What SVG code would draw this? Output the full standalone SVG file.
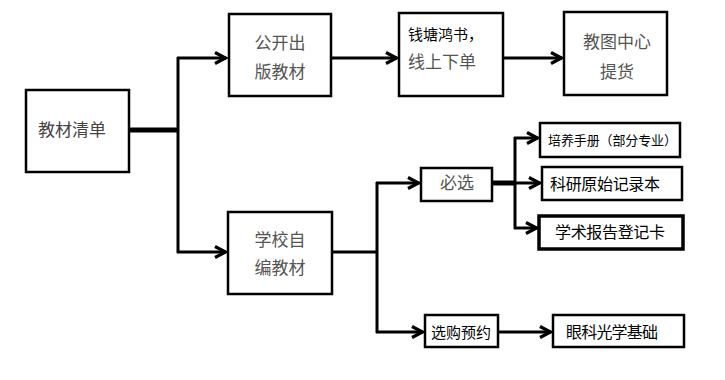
<svg xmlns="http://www.w3.org/2000/svg" width="725" height="380" viewBox="0 0 725 380">
<style>
.box{fill:#fff;stroke:#000;stroke-width:2.5}
.t{font-family:"Noto Sans CJK SC","Noto Sans",sans-serif;font-size:17px;fill:#555;text-anchor:middle}
.k{font-family:"Noto Sans CJK SC","Noto Sans",sans-serif;font-size:16px;fill:#000}
.c{fill:none;stroke:#000;stroke-width:3}
.thick{fill:none;stroke:#000;stroke-width:5}
</style>
<defs>
<marker id="ah" viewBox="0 0 14 14" refX="12.5" refY="7" markerWidth="14" markerHeight="14" markerUnits="userSpaceOnUse" orient="auto">
<path d="M1.5,1.5 L12,7 L1.5,12.5" fill="none" stroke="#000" stroke-width="3.2"/>
</marker>
</defs>
<rect width="725" height="380" fill="#fff"/>
<g id="connectors">
<line class="thick" x1="129" y1="130" x2="178" y2="130"/>
<line class="c" x1="178" y1="57" x2="178" y2="253"/>
<line class="c" x1="177" y1="58" x2="226" y2="58" marker-end="url(#ah)"/>
<line class="c" x1="177" y1="252" x2="226" y2="252" marker-end="url(#ah)"/>
<line class="c" x1="331" y1="58" x2="397" y2="58" marker-end="url(#ah)"/>
<line class="c" x1="500" y1="58" x2="562" y2="58" marker-end="url(#ah)"/>
<line class="c" x1="332" y1="252" x2="378" y2="252"/>
<line class="c" x1="377" y1="182" x2="377" y2="333"/>
<line class="c" x1="376" y1="183" x2="419" y2="183" marker-end="url(#ah)"/>
<line class="c" x1="376" y1="332" x2="423" y2="332" marker-end="url(#ah)"/>
<line class="thick" x1="492" y1="183" x2="516" y2="183"/>
<line class="c" x1="515" y1="137" x2="515" y2="229"/>
<line class="c" x1="514" y1="138" x2="538" y2="138" marker-end="url(#ah)"/>
<line class="c" x1="514" y1="183" x2="540" y2="183" marker-end="url(#ah)"/>
<line class="c" x1="514" y1="228" x2="537" y2="228" marker-end="url(#ah)"/>
<line class="c" x1="498" y1="332" x2="551" y2="332" marker-end="url(#ah)"/>
</g>
<g id="n-qingdan">
<rect class="box" x="26" y="90" width="103" height="82"/>
<text class="t" x="72" y="136" style="fill:#444">教材清单</text>
</g>
<g id="n-gongkai">
<rect class="box" x="229" y="14" width="102" height="82"/>
<text class="t" x="280" y="49">公开出</text>
<text class="t" x="280" y="78">版教材</text>
</g>
<g id="n-qiantang">
<rect class="box" x="399" y="13" width="104" height="83"/>
<text class="t" x="408" y="40" style="text-anchor:start;font-size:15px;fill:#000">钱塘鸿书，</text>
<text class="t" x="408" y="68" style="text-anchor:start">线上下单</text>
</g>
<g id="n-jiaotu">
<rect class="box" x="564" y="12" width="103" height="83"/>
<text class="t" x="617" y="48">教图中心</text>
<text class="t" x="617" y="78">提货</text>
</g>
<g id="n-xiaozibian">
<rect class="box" x="228" y="212" width="104" height="82"/>
<text class="t" x="280" y="246">学校自</text>
<text class="t" x="280" y="274">编教材</text>
</g>
<g id="n-bixuan">
<rect class="box" x="421" y="168" width="71" height="33"/>
<text class="t" x="457" y="189">必选</text>
</g>
<g id="n-xuangou">
<rect class="box" x="425" y="315" width="73" height="32"/>
<text class="k" x="461" y="338" style="text-anchor:middle;font-size:15px">选购预约</text>
</g>
<g id="n-peiyang">
<rect class="box" x="540" y="123" width="140" height="34"/>
<text class="k" x="548" y="145" style="font-size:13px" textLength="129" lengthAdjust="spacing">培养手册（部分专业）</text>
</g>
<g id="n-keyan">
<rect class="box" x="542" y="167" width="140" height="33"/>
<text class="k" x="550" y="190" textLength="110" lengthAdjust="spacing">科研原始记录本</text>
</g>
<g id="n-xueshu">
<rect class="box" x="539" y="216" width="144" height="33" style="stroke-width:3.5"/>
<text class="k" x="555" y="238" textLength="110" lengthAdjust="spacing">学术报告登记卡</text>
</g>
<g id="n-yanke">
<rect class="box" x="553" y="315" width="131" height="32"/>
<text class="k" x="566" y="338" textLength="92" lengthAdjust="spacing">眼科光学基础</text>
</g>
</svg>
